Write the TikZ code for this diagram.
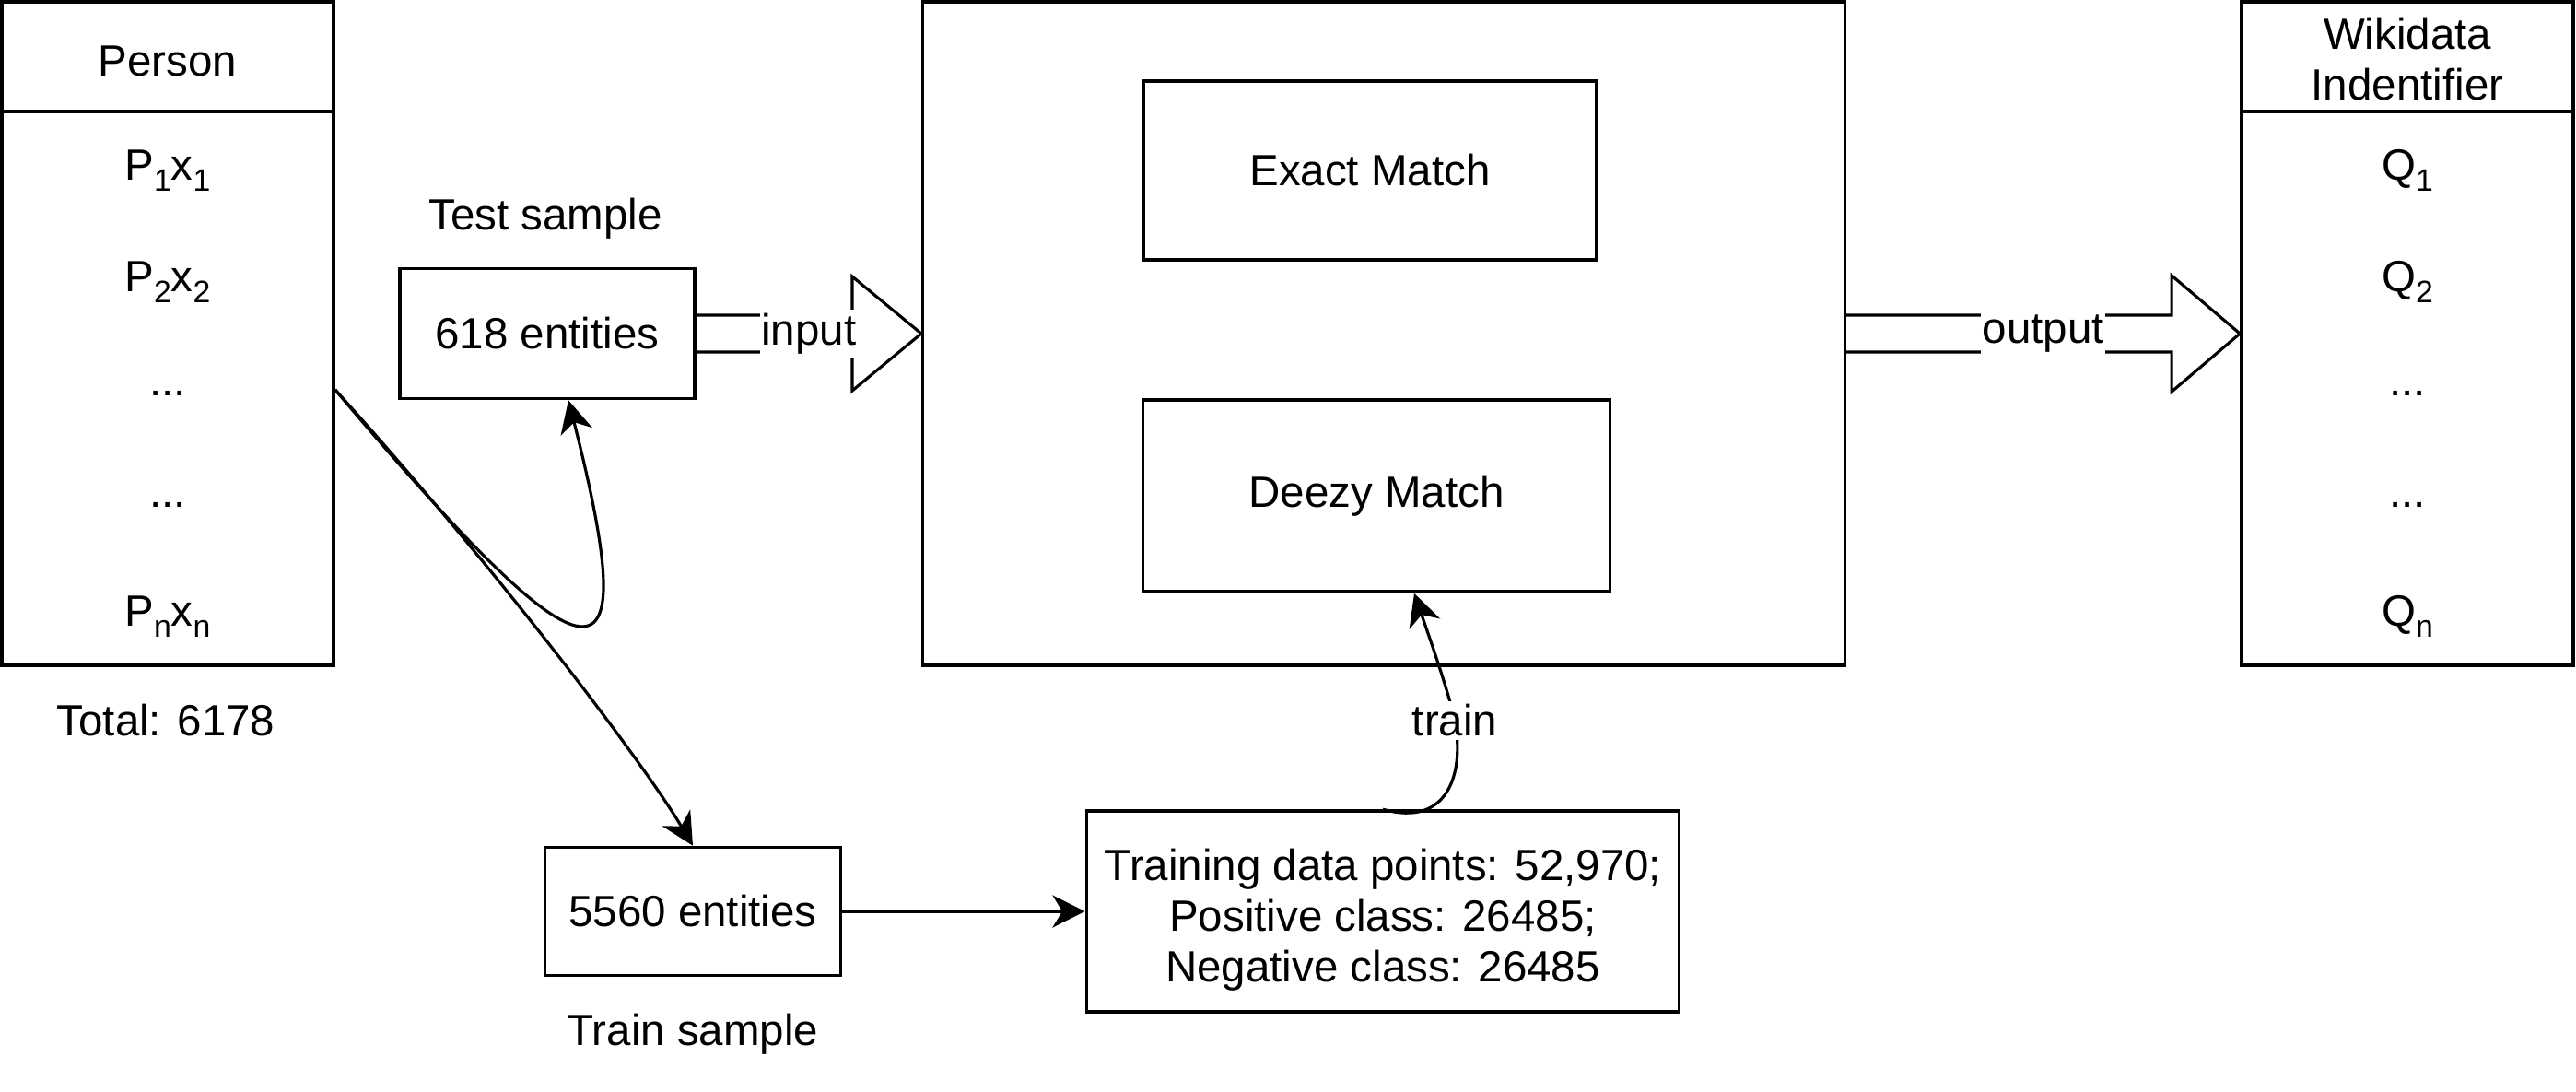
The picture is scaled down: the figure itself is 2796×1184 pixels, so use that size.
\documentclass[tikz,border=0pt]{standalone}
\usepackage{fontspec}
\setmainfont{Liberation Sans}
\usetikzlibrary{arrows.meta,calc}
\newcommand{\lowsub}[1]{\raisebox{-3.4pt}{\fontsize{9.6}{10}\selectfont #1}}

\begin{document}
\begin{tikzpicture}[x=0.01cm, y=-0.01cm,
        font=\fontsize{13.5}{15.7}\selectfont,
        box/.style={draw, line width=1pt, inner sep=0pt},
        link/.style={line width=0.9pt, -{Stealth[length=10pt,width=10pt,inset=3pt]}},
        flexarrow/.style={draw, line width=0.9pt, line join=miter},
        tag/.style={fill=white, inner xsep=0.5pt, inner ysep=1pt}]
                \useasboundingbox (0,0) rectangle (2796,1184);

                % person list
                \node[box, minimum width=3.6cm, minimum height=7.2cm] (person) at (182,362) {};
                \draw[line width=1pt] (person.west |- 0,121) -- (person.east |- 0,121);
                \node (personhead) at (182,66) {Person};
                \node (P1) at (182,185) {P\lowsub{1}x\lowsub{1}};
                \node (P2) at (182,306) {P\lowsub{2}x\lowsub{2}};
                \node (P3) at (182,427) {...};
                \node (P4) at (182,548) {...};
                \node (Pn) at (182,669) {P\lowsub{n}x\lowsub{n}};
                \node (total) at (180,782) {Total: 6178};

                % wikidata list
                \node[box, minimum width=3.6cm, minimum height=7.2cm] (wiki) at (2613,362) {};
                \draw[line width=1pt] (wiki.west |- 0,121) -- (wiki.east |- 0,121);
                \node[align=center] (wikihead) at (2613,64) {Wikidata\\Indentifier};
                \node (Q1) at (2613,185) {Q\lowsub{1}};
                \node (Q2) at (2613,306) {Q\lowsub{2}};
                \node (Q3) at (2613,427) {...};
                \node (Q4) at (2613,548) {...};
                \node (Qn) at (2613,669) {Q\lowsub{n}};

                % samples
                \node[box, minimum width=3.2cm, minimum height=1.41cm] (test) at (594,362) {618 entities};
                \node (testlabel) at (592,237) {Test sample};
                \node[box, minimum width=3.21cm, minimum height=1.39cm] (train) at (752,989) {5560 entities};
                \node (trainlabel) at (752,1122) {Train sample};
                \node[box, minimum width=6.43cm, minimum height=2.18cm] (points) at (1501,989) {};
                \node[align=center] (pointstext) at (1501,998)
                    {Training data points: 52,970;\\Positive class: 26485;\\Negative class: 26485};

                % matcher
                \node[box, minimum width=10cm, minimum height=7.2cm] (matcher) at (1502,362) {};
                \node[box, minimum width=4.92cm, minimum height=1.94cm] (exact) at (1487,185) {Exact Match};
                \node[box, minimum width=5.07cm, minimum height=2.08cm] (deezy) at (1494,538) {Deezy Match};

                % input / output arrows
                \draw[flexarrow] ($(test.east)+(0,-20)$) -| ($(matcher.west |- test.east)+(-75,-62)$)
                    -- (matcher.west |- test.east) -- ($(matcher.west |- test.east)+(-75,62)$)
                    |- ($(test.east)+(0,20)$);
                \node[tag] (input) at ($(test.east)!0.5!(matcher.west |- test.east)$) {input};
                \draw[flexarrow] ($(matcher.east)+(0,-20)$) -| ($(wiki.west)+(-74,-63)$)
                    -- (wiki.west) -- ($(wiki.west)+(-74,63)$) |- ($(matcher.east)+(0,20)$);
                \node[tag] (output) at ($(matcher.east)!0.5!(wiki.west)$) {output};

                % split of the persons
                \coordinate (fork) at ($(person.east)+(0,61)$);
                \draw[link] (fork) .. controls +(178,197) and +(-53,-89) .. (train.north);
                \draw[link] (fork) .. controls +(284,336) and +(83,326) .. ($(test.south)+(23,0)$);
                \draw[link] (train.east) -- (points.west |- train.east);

                % training
                \coordinate (trainmid) at (1579,782);
                \draw[link] (points.north) .. controls +(70,20) and +(11,58) .. (trainmid)
                    .. controls +(-6,-30) and +(12,35) .. ($(deezy.south)+(41,0)$);
                \node[tag] (trainlbl) at (trainmid) {train};
            \end{tikzpicture}
\end{document}
